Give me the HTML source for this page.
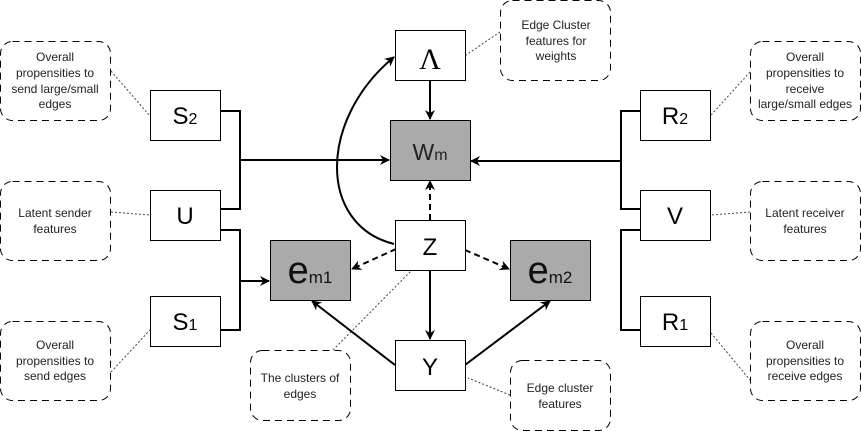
<!DOCTYPE html>
<html><head><meta charset="utf-8"><style>
html,body{margin:0;padding:0;background:#fff;width:861px;height:431px;overflow:hidden}
svg{display:block}
.n{font-family:"Liberation Sans",sans-serif;font-size:12px;fill:#222;text-anchor:middle}
.b{font-family:"Liberation Sans",sans-serif;fill:#000}
</style></head><body>
<svg width="861" height="431" viewBox="0 0 861 431" xmlns="http://www.w3.org/2000/svg">
<defs>
<marker id="a" viewBox="0 0 10 10" refX="9" refY="5" markerWidth="10" markerHeight="10" markerUnits="userSpaceOnUse" orient="auto">
<path d="M0,0 L10,5 L0,10 L3,5 Z" fill="#000"/></marker>
</defs>
<g fill="none" stroke="#000" stroke-dasharray="7,5" stroke-width="1">
<rect x="0.5" y="41.5" width="110" height="79" rx="12"/>
<rect x="0.5" y="181.5" width="110" height="79" rx="12"/>
<rect x="0.5" y="321.5" width="110" height="79" rx="12"/>
<rect x="750.5" y="41.5" width="110" height="79" rx="12"/>
<rect x="750.5" y="181.5" width="110" height="79" rx="12"/>
<rect x="750.5" y="321.5" width="110" height="79" rx="12"/>
<rect x="500.5" y="0.5" width="110" height="80" rx="12"/>
<rect x="250.5" y="350.5" width="100" height="70" rx="12"/>
<rect x="510.5" y="360.5" width="100" height="70" rx="12"/>
</g>
<g stroke="#444" stroke-dasharray="2,2" stroke-width="1" fill="none">
<line x1="111" y1="71" x2="150" y2="116"/>
<line x1="111" y1="212" x2="150" y2="215"/>
<line x1="111" y1="372" x2="150" y2="330"/>
<line x1="500" y1="32" x2="466" y2="55"/>
<line x1="333" y1="350" x2="412" y2="270"/>
<line x1="510" y1="395" x2="468" y2="378"/>
<line x1="750" y1="72" x2="711" y2="115"/>
<line x1="750" y1="212" x2="711" y2="215"/>
<line x1="711" y1="333" x2="750" y2="380"/>
</g>
<g class="n">
<text x="55" y="61">Overall</text><text x="55" y="77">propensities to</text><text x="55" y="93">send large/small</text><text x="55" y="108">edges</text>
<text x="55" y="217">Latent sender</text><text x="55" y="233">features</text>
<text x="55" y="349">Overall</text><text x="55" y="365">propensities to</text><text x="55" y="380">send edges</text>
<text x="556" y="29">Edge Cluster</text><text x="556" y="45">features for</text><text x="556" y="60">weights</text>
<text x="300" y="382">The clusters of</text><text x="300" y="398">edges</text>
<text x="560" y="392">Edge cluster</text><text x="560" y="408">features</text>
<text x="805" y="61">Overall</text><text x="805" y="77">propensities to</text><text x="805" y="93">receive</text><text x="805" y="108">large/small edges</text>
<text x="805" y="217">Latent receiver</text><text x="805" y="233">features</text>
<text x="805" y="349">Overall</text><text x="805" y="365">propensities to</text><text x="805" y="380">receive edges</text>
</g>
<g fill="none" stroke="#000" stroke-width="2">
<polyline points="220,111 240,111 240,209 220,209"/>
<line x1="240" y1="160" x2="389" y2="160" marker-end="url(#a)"/>
<polyline points="220,230 240,230 240,330 220,330"/>
<line x1="240" y1="281" x2="269" y2="281" marker-end="url(#a)"/>
<polyline points="640,111 621,111 621,209 640,209"/>
<line x1="621" y1="161" x2="471" y2="161" marker-end="url(#a)"/>
<polyline points="640,230 621,230 621,330 640,330"/>
<line x1="430" y1="80" x2="430" y2="119" marker-end="url(#a)"/>
<line x1="430" y1="270" x2="430" y2="339" marker-end="url(#a)"/>
<line x1="395" y1="365" x2="312" y2="301" marker-end="url(#a)"/>
<line x1="465" y1="365" x2="550" y2="301" marker-end="url(#a)"/>
<path d="M394,244 C318,225 318,120 394,57" marker-end="url(#a)"/>
</g>
<g fill="none" stroke="#000" stroke-width="2" stroke-dasharray="6,4">
<line x1="430" y1="220" x2="430" y2="181" marker-end="url(#a)"/>
<line x1="396" y1="249" x2="352" y2="269" marker-end="url(#a)"/>
<line x1="465" y1="250" x2="509" y2="269" marker-end="url(#a)"/>
</g>
<g stroke="#000" stroke-width="1">
<rect x="150.5" y="90.5" width="70" height="50" fill="#fff"/>
<rect x="150.5" y="190.5" width="70" height="50" fill="#fff"/>
<rect x="150.5" y="296.5" width="70" height="50" fill="#fff"/>
<rect x="640.5" y="90.5" width="70" height="50" fill="#fff"/>
<rect x="640.5" y="190.5" width="70" height="50" fill="#fff"/>
<rect x="640.5" y="296.5" width="70" height="50" fill="#fff"/>
<rect x="395.5" y="30.5" width="70" height="50" fill="#fff"/>
<rect x="395.5" y="220.5" width="70" height="50" fill="#fff"/>
<rect x="395.5" y="340.5" width="70" height="50" fill="#fff"/>
<rect x="390.5" y="120.5" width="80" height="60" fill="#aaaaaa"/>
<rect x="270.5" y="240.5" width="80" height="60" fill="#aaaaaa"/>
<rect x="510.5" y="240.5" width="80" height="60" fill="#aaaaaa"/>
</g>
<g class="b" text-anchor="middle">
<text x="185" y="124" font-size="24">S<tspan font-size="16">2</tspan></text>
<text x="185" y="224" font-size="24">U</text>
<text x="185" y="330" font-size="24">S<tspan font-size="16">1</tspan></text>
<text x="675" y="124" font-size="24">R<tspan font-size="16">2</tspan></text>
<text x="675" y="224" font-size="24">V</text>
<text x="675" y="330" font-size="24">R<tspan font-size="16">1</tspan></text>
<text x="430" y="69" font-size="30" font-family="Liberation Serif,serif">Λ</text>
<text x="430" y="255" font-size="24">Z</text>
<text x="430" y="375" font-size="24">Y</text>
<text x="430" y="160" font-size="23" fill="#222">W<tspan font-size="16">m</tspan></text>
<text x="310" y="283" font-size="38" fill="#111">e<tspan font-size="17">m1</tspan></text>
<text x="550" y="283" font-size="38" fill="#111">e<tspan font-size="17">m2</tspan></text>
</g>
</svg>
</body></html>
